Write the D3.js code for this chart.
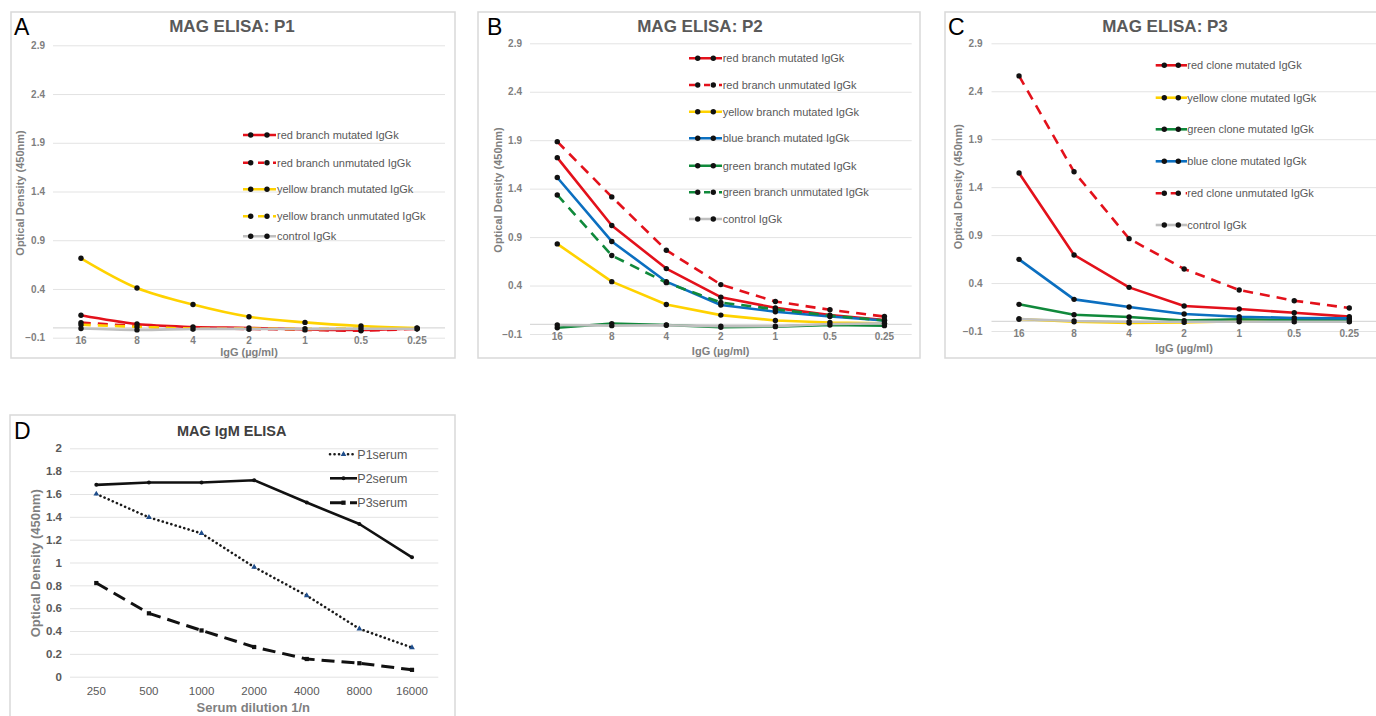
<!DOCTYPE html>
<html><head><meta charset="utf-8">
<script src="https://cdn.jsdelivr.net/npm/d3@7"></script>
<style>body{margin:0;background:#fff;overflow:hidden;} svg{display:block;}</style>
</head><body><svg id="c" width="1376" height="716"></svg>
<script>
// ---------- DATA ----------
const igGCats = ["16","8","4","2","1","0.5","0.25"];
const igGTicks = [-0.1, 0.4, 0.9, 1.4, 1.9, 2.4, 2.9];

const p1Names = ["red branch mutated IgGk","red branch unmutated IgGk","yellow branch mutated IgGk","yellow branch unmutated IgGk","control IgGk"];
const p1RedMut      = [0.13, 0.04, 0.01, 0.0, -0.015, -0.02, -0.005];
const p1RedUnmut    = [0.055, 0.02, -0.005, -0.01, -0.02, -0.028, -0.008];
const p1YellowMut   = [0.715, 0.41, 0.24, 0.115, 0.057, 0.02, 0.0];
const p1YellowUnmut = [0.033, 0.012, -0.007, -0.007, -0.01, -0.005, -0.005];
const p1Control     = [-0.005, -0.02, -0.01, -0.01, -0.01, -0.008, -0.008];

const p2Names = ["red branch mutated IgGk","red branch unmutated IgGk","yellow branch mutated IgGk","blue branch mutated IgGk","green branch mutated IgGk","green branch unmutated IgGk","control IgGk"];
const p2RedMut      = [1.72, 1.02, 0.575, 0.28, 0.17, 0.095, 0.045];
const p2RedUnmut    = [1.885, 1.315, 0.765, 0.41, 0.235, 0.15, 0.08];
const p2YellowMut   = [0.83, 0.44, 0.205, 0.095, 0.04, 0.018, 0.01];
const p2BlueMut     = [1.515, 0.855, 0.44, 0.2, 0.13, 0.08, 0.04];
const p2GreenMut    = [-0.035, 0.007, -0.007, -0.03, -0.024, -0.007, -0.014];
const p2GreenUnmut  = [1.335, 0.71, 0.43, 0.225, 0.155, 0.09, 0.04];
const p2Control     = [-0.007, -0.014, -0.01, -0.02, -0.02, 0.003, 0.01];

const p3Names = ["red clone mutated IgGk","yellow clone mutated IgGk","green clone mutated IgGk","blue clone mutated IgGk","red clone unmutated IgGk","control IgGk"];
const p3RedMut      = [1.548, 0.693, 0.355, 0.16, 0.13, 0.09, 0.05];
const p3YellowMut   = [0.025, -0.003, -0.017, -0.01, 0.003, 0.0, 0.0];
const p3GreenMut    = [0.178, 0.07, 0.046, 0.008, 0.022, 0.015, 0.015];
const p3BlueMut     = [0.647, 0.23, 0.15, 0.077, 0.049, 0.036, 0.032];
const p3RedUnmut    = [2.56, 1.56, 0.863, 0.547, 0.328, 0.216, 0.14];
const p3Control     = [0.025, 0.004, -0.003, -0.003, -0.003, -0.003, -0.003];

const dilutionCats = ["250","500","1000","2000","4000","8000","16000"];
const igmTicks = [0, 0.2, 0.4, 0.6, 0.8, 1, 1.2, 1.4, 1.6, 1.8, 2];
const serumNames = ["P1serum","P2serum","P3serum"];
const p1Serum = [1.60, 1.395, 1.255, 0.96, 0.71, 0.42, 0.255];
const p2Serum = [1.68, 1.70, 1.70, 1.72, 1.525, 1.337, 1.045];
const p3Serum = [0.82, 0.555, 0.405, 0.26, 0.155, 0.118, 0.06];

// ---------- STYLE ----------
const FONT = '"Liberation Sans", Arial, sans-serif';
const RED = "#e3111b", YEL = "#ffd200", BLU = "#0b6fc0", GRN = "#10893b", GRY = "#bfbfbf";
const DASH = "10,7";

const svg = d3.select("#c");

function panel(cfg) {
  const g = svg.append("g");
  g.append("rect").attr("x", cfg.box[0]).attr("y", cfg.box[1])
    .attr("width", cfg.box[2] - cfg.box[0]).attr("height", cfg.box[3] - cfg.box[1])
    .attr("fill", "#fff").attr("stroke", "#d9d9d9").attr("stroke-width", 1.5);

  const x = d3.scaleBand().domain(cfg.cats).range([cfg.left, cfg.right]);
  const bw = x.bandwidth();
  const y = d3.scaleLinear().domain(cfg.yDomain).range([cfg.bottom, cfg.top]);
  const cx = (d, i) => x(cfg.cats[i]) + bw / 2;

  // gridlines
  const grid = g.append("g").attr("transform", `translate(${cfg.left},0)`)
    .call(d3.axisLeft(y).tickValues(cfg.yTicks).tickSize(-(cfg.right - cfg.left)).tickFormat(""));
  grid.select(".domain").remove();
  grid.selectAll("line").attr("stroke", "#e3e3e3").attr("stroke-width", 1);
  if (cfg.zeroLine) {
    g.append("line").attr("x1", cfg.left).attr("x2", cfg.right)
      .attr("y1", y(0)).attr("y2", y(0)).attr("stroke", "#d9d9d9").attr("stroke-width", 1.2);
  }

  // y tick labels
  const ya = g.append("g").attr("transform", `translate(${cfg.yLabelX},0)`)
    .call(d3.axisLeft(y).tickValues(cfg.yTicks).tickSize(0).tickPadding(0).tickFormat(cfg.yFmt));
  ya.select(".domain").remove();
  ya.attr("font-family", FONT).attr("font-size", cfg.yTickSize);
  ya.selectAll("text").attr("fill", cfg.yTickColor).attr("font-weight", "bold");

  // x tick labels
  const xa = g.append("g").attr("transform", `translate(0,${cfg.xLabelY})`)
    .call(d3.axisBottom(x).tickSize(0).tickPadding(0));
  xa.select(".domain").remove();
  xa.attr("font-family", FONT).attr("font-size", cfg.xTickSize);
  xa.selectAll("text").attr("y", 0).attr("dy", "0.35em")
    .attr("fill", cfg.xTickColor).attr("font-weight", cfg.xTickWeight);

  // titles
  g.append("text").attr("x", cfg.titlePos[0]).attr("y", cfg.titlePos[1]).attr("dy", "0.35em")
    .attr("text-anchor", "middle").attr("font-family", FONT).attr("font-weight", "bold")
    .attr("font-size", cfg.titleSize).attr("fill", cfg.titleColor).text(cfg.title);
  g.append("text").attr("x", cfg.letterPos[0]).attr("y", cfg.letterPos[1])
    .attr("font-family", FONT).attr("font-size", 23).attr("fill", "#000").text(cfg.letter);
  g.append("text").attr("x", cfg.xTitlePos[0]).attr("y", cfg.xTitlePos[1]).attr("dy", "0.35em")
    .attr("text-anchor", "middle").attr("font-family", FONT).attr("font-weight", "bold")
    .attr("font-size", cfg.axisTitleSize).attr("fill", "#7f7f7f").text(cfg.xTitle);
  g.append("text").attr("transform", `translate(${cfg.yTitlePos[0]},${cfg.yTitlePos[1]}) rotate(-90)`)
    .attr("dy", "0.35em").attr("text-anchor", "middle").attr("font-family", FONT).attr("font-weight", "bold")
    .attr("font-size", cfg.axisTitleSize).attr("fill", "#7f7f7f").text(cfg.yTitle);

  // series
  const line = d3.line().x(cx).y(d => y(d)).curve(cfg.curve || d3.curveLinear);
  cfg.series.forEach(s => {
    g.append("path").datum(s.values).attr("d", line).attr("fill", "none")
      .attr("stroke", s.color).attr("stroke-width", s.width || 2.6)
      .attr("stroke-dasharray", s.dash || null)
      .attr("stroke-linecap", s.cap || "butt").attr("stroke-linejoin", "round");
    s.values.forEach((v, i) => {
      drawMarker(g, s.marker || "circle", cx(v, i), y(v), s.markerColor || "#111");
    });
  });

  // legend
  cfg.series.forEach((s, k) => {
    const ly = cfg.legend.rows[k];
    g.append("line").attr("x1", cfg.legend.x0).attr("x2", cfg.legend.x1).attr("y1", ly).attr("y2", ly)
      .attr("stroke", s.color).attr("stroke-width", s.width || 2.6)
      .attr("stroke-dasharray", s.legendDash || s.dash || null)
      .attr("stroke-linecap", s.cap || "butt");
    cfg.legend.marks.forEach(mx => drawMarker(g, s.marker || "circle", mx, ly, s.markerColor || "#111"));
    g.append("text").attr("x", cfg.legend.tx).attr("y", ly).attr("dy", "0.35em")
      .attr("font-family", FONT).attr("font-size", cfg.legend.size).attr("fill", "#595959").text(s.name);
  });
}

function drawMarker(g, type, x, y, color) {
  if (type === "circle") {
    g.append("circle").attr("cx", x).attr("cy", y).attr("r", 2.7).attr("fill", color);
  } else if (type === "triangle") {
    g.append("path").attr("transform", `translate(${x},${y})`)
      .attr("d", d3.symbol(d3.symbolTriangle, 14)()).attr("fill", color);
  } else if (type === "square") {
    g.append("path").attr("transform", `translate(${x},${y})`)
      .attr("d", d3.symbol(d3.symbolSquare, 18)()).attr("fill", color);
  } else if (type === "dot") {
    g.append("circle").attr("cx", x).attr("cy", y).attr("r", 2).attr("fill", color);
  }
}

const common = {
  cats: igGCats, yDomain: [-0.1, 2.9], yTicks: igGTicks, zeroLine: true,
  yFmt: d3.format(".1f"), yTickSize: 10, yTickColor: "#7f7f7f",
  xTickSize: 10, xTickColor: "#7f7f7f", xTickWeight: "bold",
  titleSize: 17, titleColor: "#595959", axisTitleSize: 11,
  xTitle: "IgG (\u00b5g/ml)", yTitle: "Optical Density (450nm)"
};

// Panel A
panel(Object.assign({}, common, {
  box: [11, 12, 455, 358], left: 53, right: 445, top: 45.3, bottom: 337.7,
  yLabelX: 45, xLabelY: 340.5, title: "MAG ELISA: P1", titlePos: [232, 26],
  letter: "A", letterPos: [14, 35], xTitlePos: [249, 352], yTitlePos: [20, 193],
  curve: d3.curveCatmullRom.alpha(0.5),
  series: [
    {name: p1Names[0], values: p1RedMut, color: RED},
    {name: p1Names[1], values: p1RedUnmut, color: RED, dash: DASH, legendDash: "6,9"},
    {name: p1Names[2], values: p1YellowMut, color: YEL},
    {name: p1Names[3], values: p1YellowUnmut, color: YEL, dash: DASH, legendDash: "6,9"},
    {name: p1Names[4], values: p1Control, color: GRY}
  ],
  legend: {x0: 243, x1: 276, marks: [250.7, 267], tx: 277, size: 11,
           rows: [135, 162.7, 189.3, 216.3, 236.3]}
}));

// Panel B
panel(Object.assign({}, common, {
  box: [478, 12, 920, 358], left: 530, right: 911.7, top: 43.3, bottom: 334,
  yLabelX: 522, xLabelY: 336.5, title: "MAG ELISA: P2", titlePos: [700, 26],
  letter: "B", letterPos: [487, 35], xTitlePos: [720.7, 351], yTitlePos: [497.7, 190],
  series: [
    {name: p2Names[0], values: p2RedMut, color: RED},
    {name: p2Names[1], values: p2RedUnmut, color: RED, dash: DASH, legendDash: "6,9"},
    {name: p2Names[2], values: p2YellowMut, color: YEL},
    {name: p2Names[3], values: p2BlueMut, color: BLU},
    {name: p2Names[4], values: p2GreenMut, color: GRN},
    {name: p2Names[5], values: p2GreenUnmut, color: GRN, dash: DASH, legendDash: "6,9"},
    {name: p2Names[6], values: p2Control, color: GRY}
  ],
  legend: {x0: 689, x1: 722, marks: [697.7, 713.3], tx: 722.7, size: 11,
           rows: [58.3, 85, 111.7, 138.3, 165.7, 192.3, 219]}
}));

// Panel C
panel(Object.assign({}, common, {
  box: [945, 12, 1390, 358], left: 991.5, right: 1376.8, top: 43.3, bottom: 331,
  yLabelX: 982.5, xLabelY: 333.5, title: "MAG ELISA: P3", titlePos: [1165, 26],
  letter: "C", letterPos: [948, 35], xTitlePos: [1184, 348.5], yTitlePos: [957.7, 186.7],
  series: [
    {name: p3Names[0], values: p3RedMut, color: RED},
    {name: p3Names[1], values: p3YellowMut, color: YEL},
    {name: p3Names[2], values: p3GreenMut, color: GRN},
    {name: p3Names[3], values: p3BlueMut, color: BLU},
    {name: p3Names[4], values: p3RedUnmut, color: RED, dash: DASH, legendDash: "6,9"},
    {name: p3Names[5], values: p3Control, color: GRY}
  ],
  legend: {x0: 1155.7, x1: 1187, marks: [1164.3, 1178.3], tx: 1187.3, size: 11,
           rows: [65.3, 97.7, 129.3, 161.3, 193.3, 225]}
}));

// Panel D
panel({
  cats: dilutionCats, yDomain: [0, 2], yTicks: igmTicks, zeroLine: false,
  yFmt: d => String(+d.toFixed(1)), yTickSize: 11.5, yTickColor: "#595959",
  xTickSize: 11.5, xTickColor: "#595959", xTickWeight: "normal",
  titleSize: 14.5, titleColor: "#404040", axisTitleSize: 13,
  xTitle: "Serum dilution 1/n", yTitle: "Optical Density (450nm)",
  box: [10, 415, 455, 720], left: 70, right: 438.3, top: 448.3, bottom: 676.7,
  yLabelX: 62, xLabelY: 690.7, title: "MAG IgM ELISA", titlePos: [231.7, 431],
  letter: "D", letterPos: [14, 439], xTitlePos: [253.3, 707], yTitlePos: [35, 563.3],
  series: [
    {name: serumNames[0], values: p1Serum, color: "#1a1a1a", width: 2.6, dash: "0.1,4.4", cap: "round",
     marker: "triangle", markerColor: "#1f4e8c"},
    {name: serumNames[1], values: p2Serum, color: "#111", width: 2.6, marker: "dot", markerColor: "#111"},
    {name: serumNames[2], values: p3Serum, color: "#111", width: 3, dash: "13,7", marker: "square", markerColor: "#111"}
  ],
  legend: {x0: 330, x1: 357, marks: [343.5], tx: 357.3, size: 12.5,
           rows: [454.3, 478.3, 502.7]}
});
</script></body></html>
